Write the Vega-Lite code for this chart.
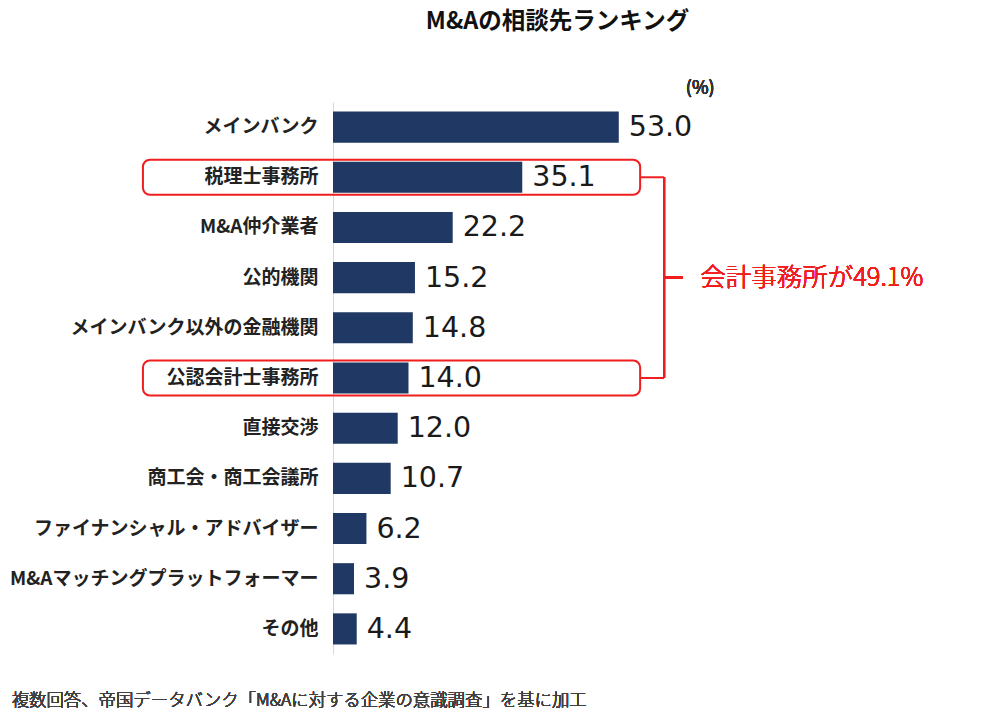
{
  "$schema": "https://vega.github.io/schema/vega-lite/v6.json",
  "autosize": {"type": "none"},
  "width": 667,
  "height": 552,
  "padding": {"left": 333, "top": 102, "right": 0, "bottom": 70},
  "background": "#ffffff",
  "title": {
    "text": "M&Aの相談先ランキング",
    "anchor": "middle",
    "dx": -109,
    "offset": 47,
    "font": "Noto Sans CJK JP",
    "fontSize": 23.5,
    "fontWeight": "bold",
    "color": "#111111"
  },
  "config": {
    "view": {"stroke": null},
    "font": "Noto Sans CJK JP"
  },
  "data": {
    "values": [
      {"name": "メインバンク", "value": 53.0, "highlight": false},
      {"name": "税理士事務所", "value": 35.1, "highlight": true},
      {"name": "M&A仲介業者", "value": 22.2, "highlight": false},
      {"name": "公的機関", "value": 15.2, "highlight": false},
      {"name": "メインバンク以外の金融機関", "value": 14.8, "highlight": false},
      {"name": "公認会計士事務所", "value": 14.0, "highlight": true},
      {"name": "直接交渉", "value": 12.0, "highlight": false},
      {"name": "商工会・商工会議所", "value": 10.7, "highlight": false},
      {"name": "ファイナンシャル・アドバイザー", "value": 6.2, "highlight": false},
      {"name": "M&Aマッチングプラットフォーマー", "value": 3.9, "highlight": false},
      {"name": "その他", "value": 4.4, "highlight": false}
    ]
  },
  "encoding": {
    "y": {
      "field": "name",
      "type": "nominal",
      "sort": null,
      "scale": {"paddingInner": 0.38, "paddingOuter": 0.19},
      "axis": {
        "title": null,
        "ticks": false,
        "grid": false,
        "domainColor": "#d9d9d9",
        "domainWidth": 1,
        "labelFont": "Noto Sans CJK JP",
        "labelFontSize": 19,
        "labelFontWeight": 600,
        "labelColor": "#222222",
        "labelPadding": 15,
        "labelLimit": 400
      }
    }
  },
  "layer": [
    {
      "mark": {"type": "bar", "color": "#1f3864"},
      "encoding": {
        "x": {
          "field": "value",
          "type": "quantitative",
          "scale": {"domain": [0, 123.7], "nice": false, "zero": true},
          "axis": null
        }
      }
    },
    {
      "mark": {
        "type": "text",
        "align": "left",
        "baseline": "middle",
        "dx": 10,
        "font": "DejaVu Sans",
        "fontSize": 28.5,
        "color": "#1a1a1a"
      },
      "encoding": {
        "x": {"field": "value", "type": "quantitative"},
        "text": {"field": "value", "type": "quantitative", "format": ".1f"}
      }
    },
    {
      "transform": [{"filter": "datum.highlight"}],
      "mark": {
        "type": "rect",
        "fill": null,
        "fillOpacity": 0,
        "stroke": "#f01e1e",
        "strokeWidth": 2,
        "cornerRadius": 7,
        "height": {"band": 1.13},
        "clip": false
      },
      "encoding": {
        "x": {"datum": -35.25},
        "x2": {"datum": 56.96}
      }
    },
    {
      "transform": [{"filter": "datum.highlight"}],
      "mark": {"type": "rule", "color": "#f01e1e", "strokeWidth": 2},
      "encoding": {
        "x": {"datum": 56.96},
        "x2": {"datum": 61.4}
      }
    },
    {
      "mark": {"type": "rule", "color": "#f01e1e", "strokeWidth": 2},
      "encoding": {
        "x": {"datum": 61.4},
        "y": {"datum": "税理士事務所", "type": "nominal"},
        "y2": {"datum": "公認会計士事務所"}
      }
    },
    {
      "mark": {"type": "rule", "color": "#f01e1e", "strokeWidth": 2},
      "encoding": {
        "x": {"datum": 61.4},
        "x2": {"datum": 64.9},
        "y": {"datum": "公的機関", "type": "nominal"}
      }
    },
    {
      "mark": {
        "type": "text",
        "align": "left",
        "baseline": "middle",
        "fontSize": 25.5,
        "fontWeight": 300,
        "color": "#f01e1e"
      },
      "encoding": {
        "x": {"datum": 68.1},
        "y": {"datum": "公的機関", "type": "nominal"},
        "text": {"value": "会計事務所が49.1%"}
      }
    },
    {
      "mark": {
        "type": "text",
        "align": "center",
        "baseline": "middle",
        "dy": -38,
        "fontSize": 18,
        "fontWeight": 400,
        "color": "#333333"
      },
      "encoding": {
        "x": {"datum": 68.1},
        "y": {"datum": "メインバンク", "type": "nominal"},
        "text": {"value": "(%)"}
      }
    },
    {
      "mark": {
        "type": "text",
        "align": "left",
        "baseline": "middle",
        "dy": 72,
        "fontSize": 17.4,
        "fontWeight": 300,
        "color": "#404040"
      },
      "encoding": {
        "x": {"datum": -59.6},
        "y": {"datum": "その他", "type": "nominal"},
        "text": {"value": "複数回答、帝国データバンク「M&Aに対する企業の意識調査」を基に加工"}
      }
    }
  ]
}
